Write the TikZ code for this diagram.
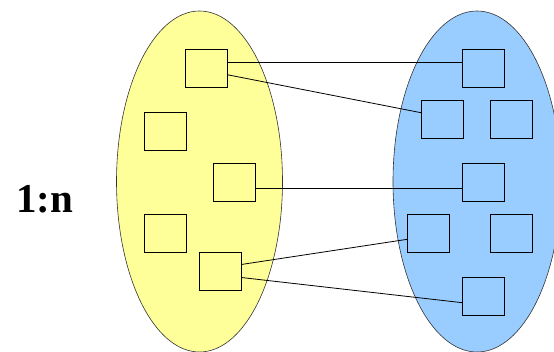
\documentclass[tikz,border=0pt]{standalone}
\usepackage{fontspec}
\setmainfont{Liberation Serif}
\usetikzlibrary{positioning}

\definecolor{setyellow}{RGB}{255,255,153}
\definecolor{setblue}{RGB}{153,204,255}

\begin{document}
\begin{tikzpicture}[x=1pt, y=-1pt]
    % --- Style Definitions ---
    \tikzset{
        group shape/.style={
            draw=black!80,
            line width=0.6pt
        },
        entity box/.style={
            draw=black,
            line width=0.8pt,
            minimum width=42pt,
            minimum height=38pt,
            inner sep=0pt,
            outer sep=0pt
        },
        link line/.style={
            draw=black,
            line width=0.8pt
        },
        ratio text/.style={font=\fontsize{41}{41}\selectfont\bfseries}
    }

    % canvas
    \useasboundingbox (0,0) rectangle (554,352);
    \clip (0,0) rectangle (554,352);

    % ==========================================
    % 1. The two sets
    % ==========================================
    \filldraw[group shape, fill=setyellow] (199.5,181.5) ellipse [x radius=83, y radius=170.5];
    \filldraw[group shape, fill=setblue] (477,181.5) ellipse [x radius=84, y radius=170.5];

    % ==========================================
    % 2. Left entities
    % ==========================================
    \node[entity box] (l1) at (206.7,68.3) {};
    \node[entity box] (l2) at (165,131.7) {};
    \node[entity box] (l3) at (234.3,182.3) {};
    \node[entity box] (l4) at (165,233) {};
    \node[entity box] (l5) at (220.3,271) {};

    % ==========================================
    % 3. Right entities
    % ==========================================
    \node[entity box] (r1) at (483.3,68.3) {};
    \node[entity box] (r2) at (442,119) {};
    \node[entity box] (r3) at (511.3,119) {};
    \node[entity box] (r4) at (483.3,182.3) {};
    \node[entity box] (r5) at (428.3,233) {};
    \node[entity box] (r6) at (511.3,233) {};
    \node[entity box] (r7) at (483.3,296.3) {};

    % ==========================================
    % 4. Links (one to many)
    % ==========================================
    \draw[link line] ([yshift=6pt]l1.east) -- ([yshift=6pt]r1.west);
    \draw[link line] ([yshift=-6.5pt]l1.east) -- ([yshift=6.3pt]r2.west);
    \draw[link line] ([yshift=-6pt]l3.east) -- ([yshift=-6pt]r4.west);
    \draw[link line] ([yshift=6.5pt]l5.east) -- ([yshift=-6.3pt]r5.west);
    \draw[link line] ([yshift=-6.5pt]l5.east) -- ([yshift=-6.4pt]r7.west);

    % 5. Label
    \node[ratio text, anchor=base] (ratio) at (44.5,213) {1:n};

\end{tikzpicture}
\end{document}
